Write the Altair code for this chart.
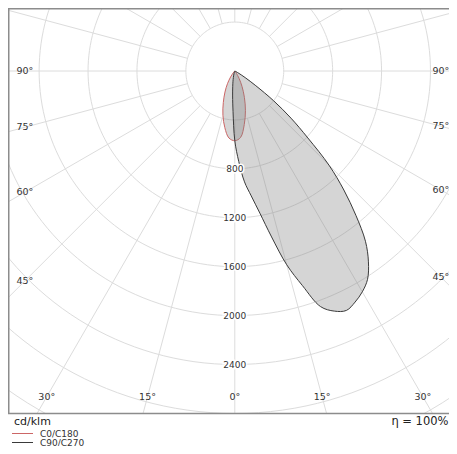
import altair as alt
import pandas as pd

# ---------------- data (luminous intensity, cd/klm) ----------------
series_names = ["C0/C180", "C90/C270"]
series_colors = ["#cc6666", "#3a3a3a"]

# C0 / C180 plane, gamma in degrees (C180 drawn on the left, C0 on the right)
c0_c180_gamma = [0, 5, 10, 15, 20, 25, 30, 35, 40, 45, 50, 55, 60, 65, 70, 75, 80, 85, 90]
c0_values = [570, 545, 445, 336, 229, 140, 70, 25, 5, 0, 0, 0, 0, 0, 0, 0, 0, 0, 0]
c180_values = [570, 550, 470, 375, 275, 190, 120, 60, 20, 5, 0, 0, 0, 0, 0, 0, 0, 0, 0]

# C90 / C270 plane (C270 drawn on the left, C90 on the right)
c90_c270_gamma = [0, 2.5, 5, 7.5, 10, 12.5, 15, 17.5, 20, 22.5, 25, 27.5, 30, 32.5,
                  35, 37.5, 40, 42.5, 45, 47.5, 50, 52.5, 55, 57.5, 60, 62.5, 65,
                  67.5, 70, 72.5, 75, 77.5, 80, 82.5, 85, 87.5, 90]
c90_values = [570, 740, 910, 1030, 1180, 1390, 1640, 1840, 2050, 2125, 2160, 2130,
              2085, 2020, 1905, 1755, 1540, 1320, 1090, 810, 600, 400, 210, 100, 40,
              10, 0, 0, 0, 0, 0, 0, 0, 0, 0, 0, 0]
c270_values = [570, 330, 205, 130, 85, 55, 35, 20, 10, 5, 0, 0, 0, 0, 0, 0, 0, 0, 0,
               0, 0, 0, 0, 0, 0, 0, 0, 0, 0, 0, 0, 0, 0, 0, 0, 0, 0]

ring_values = [400, 800, 1200, 1600, 2000, 2400, 2800, 3200, 3600]
ring_label_values = [800, 1200, 1600, 2000, 2400]
spoke_angles = [0, 15, 30, 45, 60, 75, 90, 105, 120, 135, 150, 165,
                180, 195, 210, 225, 240, 255, 270, 285, 300, 315, 330, 345]
angle_label_values = [0, 15, 30, 45, 60, 75, 90]
unit_text = "cd/klm"
eta_text = "η = 100%"

# ---------------- geometry of the frame ----------------
W, H = 441, 406                 # plot area (px)
K = 0.1223                      # px per cd/klm
CX, CY = 226.8, 63.0            # polar centre inside plot area (px)
x_domain = [-CX / K, (W - CX) / K]
y_domain = [-(H - CY) / K, CY / K]
XB_L = 210 / K                  # label inset (left)
XB_R = 206 / K                  # label inset (right)
YB = 325.7 / K                  # label inset (bottom)
FONT = "DejaVu Sans"


def curve_rows(name, gammas, left_vals, right_vals):
    seq = [(-1, g, v) for g, v in zip(gammas[::-1], left_vals[::-1])]
    seq += [(1, g, v) for g, v in zip(gammas[1:], right_vals[1:])]
    pts = [(-1, 90, 0)] + [p for p in seq if p[2] > 0] + [(1, 90, 0)]
    return [dict(series=name, side=s, gamma=g, I=v, order=i) for i, (s, g, v) in enumerate(pts)]


curves = pd.DataFrame(
    curve_rows(series_names[0], c0_c180_gamma, c180_values, c0_values)
    + curve_rows(series_names[1], c90_c270_gamma, c270_values, c90_values)
)

rings = pd.DataFrame([dict(ring=r, theta=t, order=t) for r in ring_values for t in range(0, 361, 2)])
spokes = pd.DataFrame([dict(angle=a, r=r) for a in spoke_angles for r in (ring_values[0], 6000)])
ring_labels = pd.DataFrame(dict(I=ring_label_values, label=[str(v) for v in ring_label_values]))
angle_labels = pd.DataFrame(
    [dict(gamma=g, side=s, label=f"{g}°") for g in angle_label_values for s in ((1,) if g == 0 else (-1, 1))]
)

xs = alt.Scale(domain=x_domain, nice=False, zero=False)
ys = alt.Scale(domain=y_domain, nice=False, zero=False)
X = alt.X("x:Q", scale=xs, axis=None)
Y = alt.Y("y:Q", scale=ys, axis=None)

grid_color = "#dcdcdc"

ring_layer = alt.Chart(rings).transform_calculate(
    x="datum.ring * sin(datum.theta * PI / 180)",
    y="datum.ring * cos(datum.theta * PI / 180)",
).mark_line(stroke=grid_color, strokeWidth=1, clip=True).encode(
    x=X, y=Y, detail="ring:N", order="order:Q"
)

spoke_layer = alt.Chart(spokes).transform_calculate(
    x="datum.r * sin(datum.angle * PI / 180)",
    y="-datum.r * cos(datum.angle * PI / 180)",
).mark_line(stroke=grid_color, strokeWidth=1, clip=True).encode(
    x=X, y=Y, detail="angle:N", order="r:Q"
)

curve_base = alt.Chart(curves).transform_calculate(
    x="datum.side * datum.I * sin(datum.gamma * PI / 180)",
    y="-datum.I * cos(datum.gamma * PI / 180)",
)

curve_layer = curve_base.mark_line(
    fill="#808080", fillOpacity=0.33, strokeWidth=1, interpolate="catmull-rom"
).encode(
    x=X, y=Y, order="order:Q",
    stroke=alt.Stroke("series:N", scale=alt.Scale(domain=series_names, range=series_colors), legend=None),
    detail="series:N",
)

ring_label_base = alt.Chart(ring_labels).transform_calculate(x="0", y="-datum.I")
ring_halo = ring_label_base.mark_text(
    font=FONT, fontSize=9, stroke="white", strokeWidth=3, fill="white", align="center", baseline="middle"
).encode(x=X, y=Y, text="label:N")
ring_text = ring_label_base.mark_text(
    font=FONT, fontSize=9, fill="#333333", align="center", baseline="middle"
).encode(x=X, y=Y, text="label:N")

angle_text = alt.Chart(angle_labels).transform_calculate(
    xb=f"datum.side < 0 ? {XB_L} : {XB_R}",
).transform_calculate(
    rl=f"min(datum.gamma > 0 ? datum.xb / sin(datum.gamma * PI / 180) : 1e9,"
       f" datum.gamma < 90 ? {YB} / cos(datum.gamma * PI / 180) : 1e9)",
).transform_calculate(
    x="datum.side * datum.rl * sin(datum.gamma * PI / 180)",
    y="-datum.rl * cos(datum.gamma * PI / 180)",
).mark_text(font=FONT, fontSize=9.5, fill="#333333", align="center", baseline="middle").encode(
    x=X, y=Y, text="label:N"
)

frame_color = "#8c8c8c"
frame_left = alt.Chart().mark_rule(stroke=frame_color, strokeWidth=1.5).encode(
    x=alt.value(0.75), y=alt.value(0), y2=alt.value(H))
frame_top = alt.Chart().mark_rule(stroke=frame_color, strokeWidth=1.5).encode(
    x=alt.value(0), x2=alt.value(W), y=alt.value(0.75))
frame_bottom = alt.Chart().mark_rule(stroke=frame_color, strokeWidth=1.5).encode(
    x=alt.value(0), x2=alt.value(W), y=alt.value(H - 0.5))

unit_label = alt.Chart().mark_text(
    text=unit_text, font=FONT, fontSize=11, fill="#222222", align="left", baseline="alphabetic"
).encode(x=alt.value(6), y=alt.value(417))
eta_label = alt.Chart().mark_text(
    text=eta_text, font=FONT, fontSize=11.5, fill="#222222", align="right", baseline="alphabetic"
).encode(x=alt.value(W - 0.5), y=alt.value(417))

legend_layers = []
for i, (name, col) in enumerate(zip(series_names, series_colors)):
    yy = 425.5 + 9 * i
    legend_layers.append(alt.Chart().mark_rule(stroke=col, strokeWidth=1).encode(
        x=alt.value(4), x2=alt.value(25), y=alt.value(yy)))
    legend_layers.append(alt.Chart().mark_text(
        text=name, font=FONT, fontSize=9, fill="#333333", align="left", baseline="middle"
    ).encode(x=alt.value(32), y=alt.value(yy)))

chart = alt.layer(
    ring_layer, spoke_layer, curve_layer, ring_halo, ring_text, angle_text,
    frame_left, frame_top, frame_bottom, unit_label, eta_label, *legend_layers
).properties(
    width=W, height=H,
    autosize=alt.AutoSizeParams(type="none"),
    padding={"left": 0, "top": 0, "right": 0, "bottom": 32},
).configure_view(strokeWidth=0)

chart.save("out.html", embed_options={"renderer": "svg", "actions": False})
